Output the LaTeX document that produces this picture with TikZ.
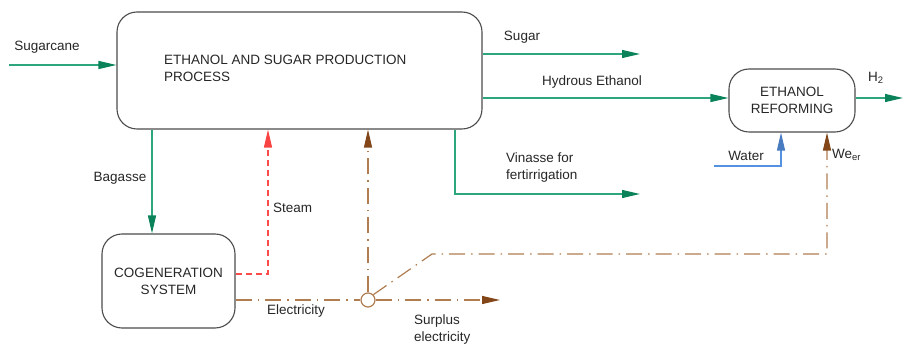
\documentclass[tikz,border=0pt]{standalone}
\usepackage{fontspec}
\setmainfont{Liberation Sans}
\usetikzlibrary{arrows.meta,positioning}
\definecolor{flowgreen}{RGB}{45,165,125}
\definecolor{tipgreen}{RGB}{10,130,90}
\definecolor{elecbrown}{RGB}{175,125,80}
\definecolor{tipbrown}{RGB}{130,70,25}
\definecolor{steamred}{RGB}{250,75,75}
\definecolor{waterblue}{RGB}{85,145,225}
\tikzset{
  lbl/.style={font=\fontsize{13.5}{17}\selectfont, text=black!85, inner sep=0pt, align=left},
  unitbox/.style={draw=black!70, line width=1.1pt, rounded corners=20pt, font=\fontsize{13.5}{17}\selectfont, text=black!85, align=center},
  greenflow/.style={draw=flowgreen, line width=1.2pt, -{Triangle[length=18pt,width=8pt,color=tipgreen]}},
  elecflow/.style={draw=elecbrown, line width=1.2pt, dash pattern=on 16pt off 6pt on 1.5pt off 6pt},
  electip/.style={-{Triangle[length=18pt,width=8pt,color=tipbrown]}},
}
\begin{document}
\begin{tikzpicture}[x=1pt, y=-1pt]
        \useasboundingbox (0,0) rectangle (903,347);

        % Unidades
        \node[unitbox, minimum width=365pt, minimum height=117pt] (proc) at (299.5,70.5) {};
        \node[lbl, anchor=west] (proctext) at (164,68) {ETHANOL AND SUGAR PRODUCTION\\PROCESS};
        \node[unitbox, minimum width=133pt, minimum height=94pt] (cogen) at (168.5,281) {COGENERATION\\SYSTEM};
        \node[unitbox, minimum width=126pt, minimum height=63pt] (reform) at (792,100.5) {ETHANOL\\REFORMING};
        \node[draw=elecbrown, line width=1.2pt, circle, minimum size=14pt, inner sep=0pt] (split) at (368,300) {};

        % Puntos libres
        \coordinate (canein) at (9,65);
        \coordinate (sugarout) at (640,54);
        \coordinate (vinout) at (640,194);
        \coordinate (h2out) at (903,98);
        \coordinate (waterin) at (714,166);
        \coordinate (surplusout) at (500,300);
        \coordinate (bend) at (432,254);
        \coordinate (weerx) at (827,254);

        % Corrientes de masa
        \draw[greenflow] (canein) -- (canein -| proc.west);
        \draw[greenflow] (sugarout -| proc.east) -- (sugarout);
        \draw[greenflow] (proc.east |- 0,98) -- (reform.west |- 0,98);
        \draw[greenflow] (reform.east |- 0,98) -- (h2out);
        \draw[greenflow] (455,0 |- proc.south) -- (455,194) -- (vinout);
        \draw[greenflow] (152,0 |- proc.south) -- (152,0 |- cogen.north);
        \draw[draw=waterblue, line width=1.2pt, -{Triangle[length=18pt,width=8pt,color=waterblue!85!black]}]
          (waterin) -- (781,166) -- (781,0 |- reform.south);

        % Vapor
        \draw[draw=steamred, line width=1.2pt, dash pattern=on 6pt off 4pt, -{Triangle[length=18pt,width=8pt,color=steamred!90!red]}]
          (cogen.east |- 0,274) -- (268,274) -- (268,0 |- proc.south);

        % Electricidad
        \draw[elecflow] (cogen.east |- split) -- (split.west);
        \draw[elecflow, electip] (split.east) -- (surplusout);
        \draw[elecflow, electip] (split.north) -- (split.north |- proc.south);
        \draw[elecflow, electip] (split.north east) -- (bend) -- (weerx) -- (weerx |- reform.south);

        % Textos
        \node[lbl] (lcane) at (47,47) {Sugarcane};
        \node[lbl] (lsugar) at (522,37) {Sugar};
        \node[lbl] (lhydrous) at (592,82) {Hydrous Ethanol};
        \node[lbl, anchor=west] (lh2) at (868,78) {H\textsubscript{2}};
        \node[lbl] (lwater) at (746,156) {Water};
        \node[lbl, anchor=west] (lweer) at (832,155) {We\textsubscript{er}};
        \node[lbl, anchor=west] (lvinasse) at (506,168) {Vinasse for\\fertirrigation};
        \node[lbl] (lbagasse) at (120,178) {Bagasse};
        \node[lbl, anchor=west] (lsteam) at (273,208) {Steam};
        \node[lbl] (lelec) at (296,311) {Electricity};
        \node[lbl, anchor=west] (lsurplus) at (414,330) {Surplus\\electricity};

\end{tikzpicture}
\end{document}
